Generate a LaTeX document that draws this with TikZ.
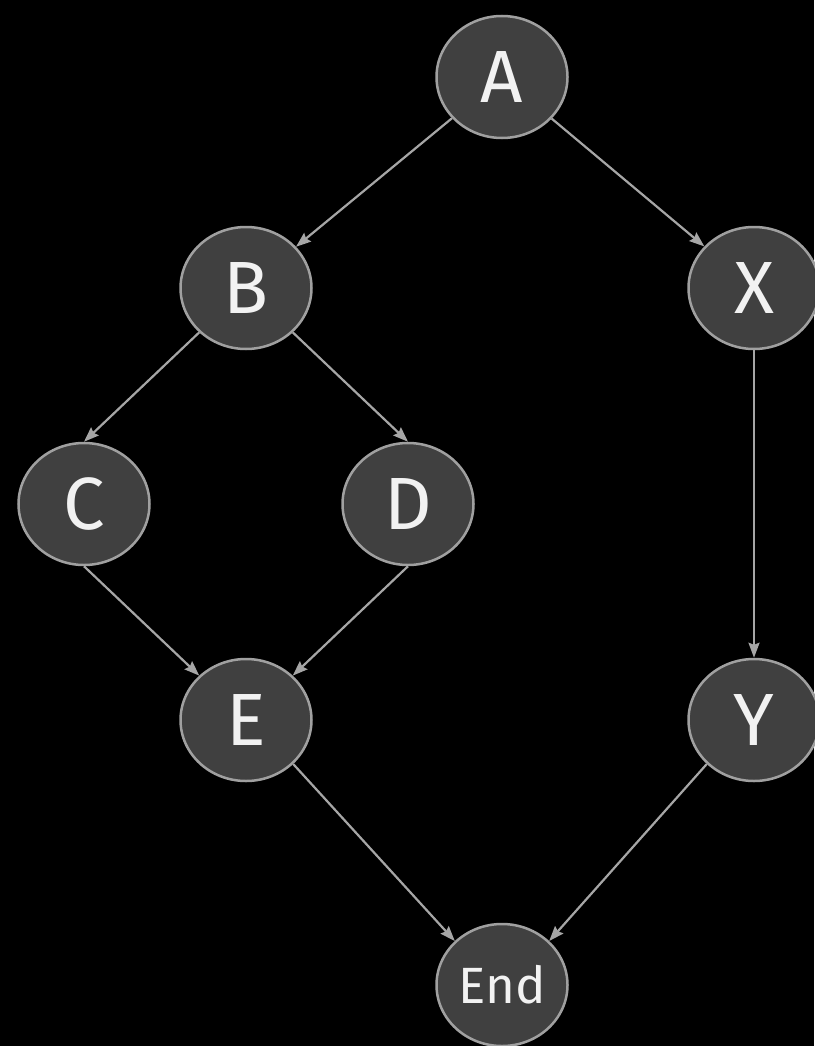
\documentclass[tikz,border=0pt]{standalone}
\usepackage{fontspec}
\setmainfont{Fira Sans}
\usetikzlibrary{positioning, arrows.meta, shapes.geometric}
\definecolor{nodefill}{HTML}{404040}
\definecolor{nodeline}{HTML}{A0A0A0}
\definecolor{edgeline}{HTML}{A6A6A6}
\definecolor{labeltext}{HTML}{F2F2F2}
\begin{document}
\begin{tikzpicture}[
  x=1pt, y=-1pt,
  >={Stealth[length=15pt, width=11pt, inset=2pt]},
  every node/.style={font=\fontsize{74}{74}\selectfont, text=labeltext},
  vertex/.style = {ellipse, draw=nodeline, fill=nodefill, line width=2.5pt, inner sep=0pt, minimum width=131pt, minimum height=122pt},
  small/.style  = {font=\fontsize{51}{51}\selectfont},
  arr/.style    = {->, line width=2.2pt, edgeline},
]
  \fill[black] (0,0) rectangle (814,1046);
  \useasboundingbox (0,0) rectangle (814,1046);
  \node[vertex]        (a)   at (502,77)  {A};
  \node[vertex]        (b)   at (246,288) {B};
  \node[vertex]        (x)   at (754,288) {X};
  \node[vertex]        (c)   at (84,504)  {C};
  \node[vertex]        (d)   at (408,504) {D};
  \node[vertex]        (e)   at (246,720) {E};
  \node[vertex]        (y)   at (754,720) {Y};
  \node[vertex, small] (end) at (502,985) {End};
  \foreach \s/\t in {a/b, a/x, x/y, b/c.north, b/d.north, c.south/e, d.south/e, e.south east/end.north west, y.south west/end.north east}
     \draw[arr] (\s) -- (\t);
\end{tikzpicture}
\end{document}
